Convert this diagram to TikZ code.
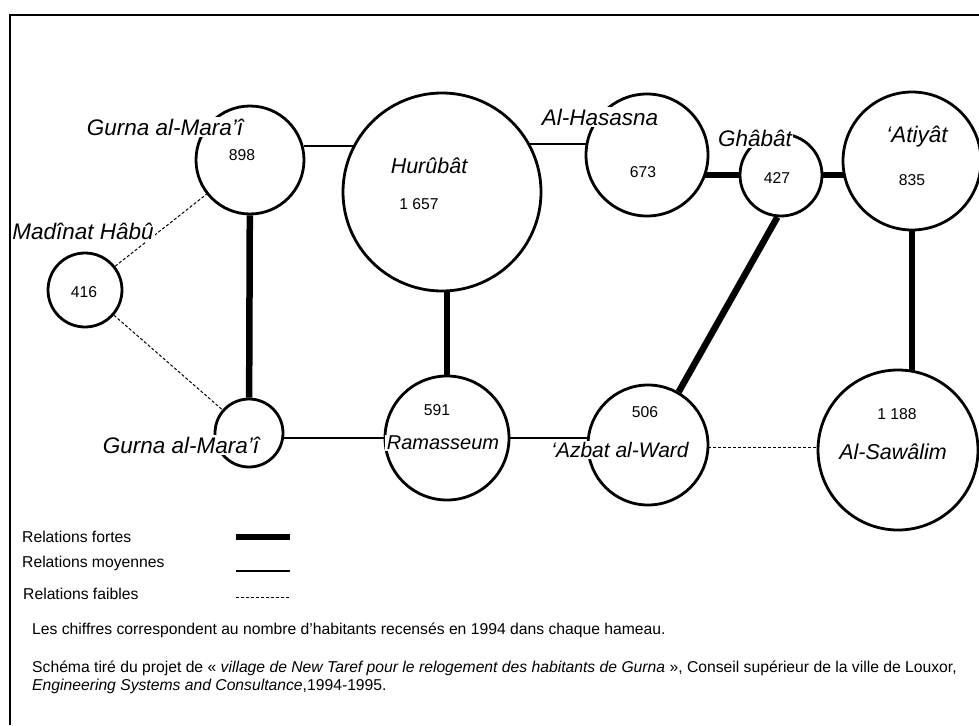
\documentclass[tikz,border=0pt]{standalone}
\usepackage{fontspec}
\setmainfont{Liberation Sans}
\pgfdeclarelayer{links}
\pgfsetlayers{links,main}
\tikzset{
  hamlet/.style={circle, draw, line width=2.8pt, fill=white, inner sep=0pt},
  place/.style={fill=white, inner sep=1.5pt, font=\fontsize{22.5}{26}\selectfont\itshape},
  count/.style={inner sep=0pt, font=\fontsize{15.7}{18}\selectfont},
  note/.style={anchor=west, inner sep=0pt, font=\fontsize{15.7}{18}\selectfont},
  strong/.style={line width=6.5pt},
  medium/.style={line width=2pt},
  weak/.style={line width=1pt, dash pattern=on 3pt off 2pt},
}
\begin{document}
\begin{tikzpicture}[x=1pt, y=-1pt]
\useasboundingbox (0,0) rectangle (979,725);
% frame
\draw[line width=2.2pt] (10,725) -- (10,15) -- (979,15);

% hamlets
\node[hamlet, minimum size=108pt] (g1)  at (250,160) {};
\node[hamlet, minimum size=74pt]  (mad) at (85,290)  {};
\node[hamlet, minimum size=68pt]  (g2)  at (249,433) {};
\node[hamlet, minimum size=198pt] (hur) at (442,192) {};
\node[hamlet, minimum size=124pt] (ram) at (447,438) {};
\node[hamlet, minimum size=122pt] (has) at (647,155) {};
\node[hamlet, minimum size=82pt]  (gha) at (781,175) {};
\node[hamlet, minimum size=138pt] (ati) at (912,161) {};
\node[hamlet, minimum size=120pt] (azb) at (648,445) {};
\node[hamlet, minimum size=160pt] (saw) at (898,450) {};

% relations
\begin{pgfonlayer}{links}
\draw[strong] (g1) -- (g2);
\draw[strong] (ram.center) -- (ram.center |- hur.center);
\draw[strong] (has.center |- gha.center) -- (gha.center);
\draw[strong] (gha.center) -- (gha.center -| ati.center);
\draw[strong] (ati.center) -- (ati.center |- saw.center);
\draw[strong] (gha.265) -- (azb.60);
\draw[medium] (g1.15) -- (g1.15 -| hur.center);
\draw[medium] (has.170) -- (has.170 -| hur.center);
\draw[medium] (g2.center |- ram.center) -- (ram.center);
\draw[medium] (ram.center) -- (ram.center -| azb.center);
\draw[weak] (azb.center |- saw.178) -- (saw.178);
\draw[weak] (mad) -- (g1);
\draw[weak] (mad) -- (g2);
\end{pgfonlayer}

% names
\node[place] (g1n)  at (165,127) {Gurna al-Mara’î};
\node[place, inner xsep=1.5pt, inner ysep=3pt] (madn) at (83,231) {Madînat Hâbû\hspace{12pt}};
\node[place] (g2n)  at (181,445) {Gurna al-Mara’î};
\node[place, font=\fontsize{21.5}{25}\selectfont\itshape] (hurn) at (429,166) {Hurûbât};
\node[place] (hasn) at (600,117) {Al-Hasasna};
\node[place] (ghan) at (755,138) {Ghâbât};
\node[place] (atin) at (917,137) {‘Atiyât};
\node[place, font=\fontsize{20}{24}\selectfont\itshape] (ramn) at (443,443) {Ramasseum};
\node[place, font=\fontsize{21}{25}\selectfont\itshape] (azbn) at (620,450) {‘Azbat al-Ward};
\node[place, font=\fontsize{21.5}{25}\selectfont\itshape] (sawn) at (893,452) {Al-Sawâlim};

% populations
\node[count] (g1c)  at (242,155) {898};
\node[count] (madc) at (84,292)  {416};
\node[count] (hurc) at (419,204) {1 657};
\node[count] (hasc) at (643,172) {673};
\node[count] (gahc) at (777,178) {427};
\node[count] (atic) at (912,180) {835};
\node[count] (ramc) at (437,410) {591};
\node[count] (azbc) at (645,412) {506};
\node[count] (sawc) at (897,414) {1 188};

% legend
\node[note] (lf) at (22,537) {Relations fortes};
\node[note] (lm) at (22,563) {Relations moyennes};
\node[note] (lw) at (23,594) {Relations faibles};
\coordinate (lfa) at (236,537); \coordinate (lfb) at (290,537);
\coordinate (lma) at (236,571); \coordinate (lmb) at (290,571);
\coordinate (lwa) at (236,597); \coordinate (lwb) at (290,597);
\draw[line width=6pt] (lfa) -- (lfb);
\draw[medium] (lma) -- (lmb);
\draw[weak] (lwa) -- (lwb);

\node[note] (n1) at (32,630) {Les chiffres correspondent au nombre d’habitants recensés en 1994 dans chaque hameau.};
\node[note] (n2) at (32,668) {Schéma tiré du projet de « \textit{village de New Taref pour le relogement des habitants de Gurna} », Conseil supérieur de la ville de Louxor,};
\node[note] (n3) at (32,686) {\textit{Engineering Systems and Consultance},1994-1995.};
\end{tikzpicture}
\end{document}
